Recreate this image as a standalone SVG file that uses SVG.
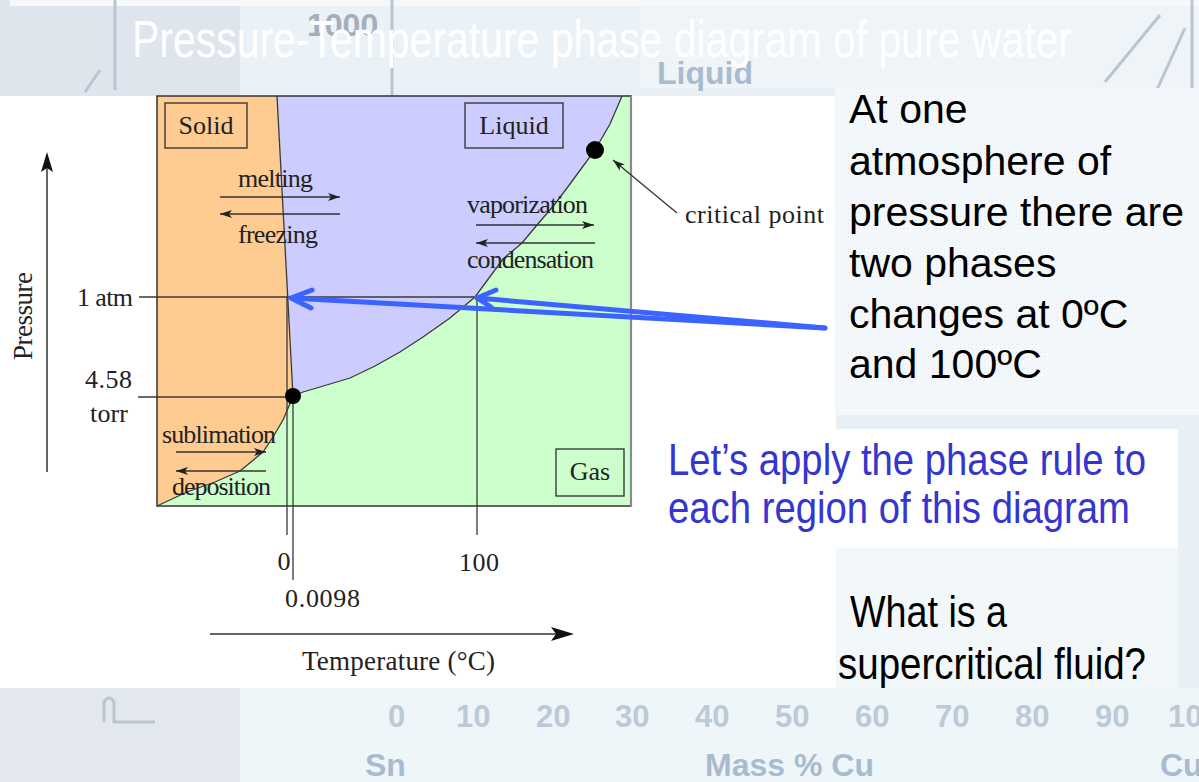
<svg xmlns="http://www.w3.org/2000/svg" width="1199" height="782" viewBox="0 0 1199 782">
<defs>
<style>
.ser{font-family:"Liberation Serif","Times New Roman",serif;fill:#222;font-size:26px}
.ln{stroke:#3a3a3a;stroke-width:1.3;fill:none}
.bx{stroke:#3a3a3a;stroke-width:1.4;fill:none}
.sm{stroke:#333;stroke-width:1.3;fill:none;marker-end:url(#ah)}
.blue{stroke:#3a63ff;stroke-width:5;fill:none;stroke-linecap:round;stroke-linejoin:round}
.wm{font-family:"Liberation Sans",Arial,sans-serif;fill:#bccad8;font-size:31px;font-weight:bold}
.wmb{font-family:"Liberation Sans",Arial,sans-serif;fill:#a9bccf;font-size:32px;font-weight:bold}
.rt{font-family:"Liberation Sans",Arial,sans-serif;fill:#000;font-size:41px}
.nar{font-family:"Liberation Sans",Arial,sans-serif;font-size:44px}
.faint{stroke:#b9c6d2;stroke-width:3;fill:none}
</style>
<marker id="ah" markerWidth="12" markerHeight="8" refX="12" refY="4" orient="auto" markerUnits="userSpaceOnUse"><path d="M0,0 L12,4 L0,8 L3,4 z" fill="#222"/></marker>
<pattern id="dots" width="4" height="4" patternUnits="userSpaceOnUse"><rect width="4" height="4" fill="#f5f8fa"/><rect width="1" height="1" fill="#e3eaf0"/></pattern>
</defs>

<g id="background">
<rect x="0" y="0" width="1199" height="782" fill="#e9f0f5"/>
<rect x="0" y="0" width="240" height="96" fill="#dfe5ec"/>
<rect x="240" y="0" width="400" height="96" fill="#ebf2f7"/>
<rect x="640" y="0" width="559" height="88" fill="#eef4f8"/>
<rect x="10" y="0" width="1189" height="6" fill="#f6f8fa"/>
<rect x="0" y="688" width="240" height="94" fill="#e2e8ee"/>
<rect x="240" y="688" width="959" height="94" fill="#eef6fa"/>
<path class="faint" d="M115,0 L115,90 M100,70 L85,92 M392,0 L392,96"/>
<path class="faint" d="M1105,82 L1160,15 M1150,105 L1185,28 M1192,0 L1192,100"/>
<path class="faint" d="M104,722 L104,702 Q109,694 114,702 L114,722 L155,722"/>
<text class="wmb" x="307" y="36" style="fill:#a3afbb">1000</text>
<text class="wmb" x="657" y="84">Liquid</text>
<g class="wm">
<text x="388" y="727">0</text><text x="456" y="727">10</text><text x="536" y="727">20</text><text x="615" y="727">30</text><text x="695" y="727">40</text><text x="775" y="727">50</text><text x="855" y="727">60</text><text x="935" y="727">70</text><text x="1015" y="727">80</text><text x="1095" y="727">90</text><text x="1168" y="727">100</text>
</g>
<text class="wmb" x="365" y="776">Sn</text>
<text class="wmb" x="705" y="776">Mass % Cu</text>
<text class="wmb" x="1160" y="776">Cu</text>
</g>

<g id="title">
<text x="132" y="57" font-family="Liberation Sans, Arial, sans-serif" font-size="52" fill="#ffffff" textLength="940" lengthAdjust="spacingAndGlyphs">Pressure-Temperature phase diagram of pure water</text>
</g>

<g id="diagram-image">
<rect x="0" y="96" width="836" height="592" fill="#ffffff"/>
</g>

<g id="regions">
<rect id="gas-region" x="157" y="96" width="474" height="410" fill="#ccffcc"/>
<path id="liquid-region" d="M277,96 L622,96 L610,124 L595,150 L570,184 L555,204 L537,225 L522,243 L503,259 L475,297 L450,318 L423,337 L400,352 L375,366 L350,378 L320,387 L303,392 L293,396 Z" fill="#ccccff"/>
<path id="solid-region" d="M157,96 L277,96 L293,396 L289,406 L283,420 L273,437 L263,452 L240,471 L215,482 L187,492 L157,506 Z" fill="#fecb91"/>
</g>

<g id="curves">
<path class="ln" d="M277,96 L293,396"/>
<path class="ln" d="M622,96 L610,124 L595,150 L570,184 L555,204 L537,225 L522,243 L503,259 L475,297 L450,318 L423,337 L400,352 L375,366 L350,378 L320,387 L303,392 L293,396"/>
<path class="ln" d="M293,396 L289,406 L283,420 L273,437 L263,452 L240,471 L215,482 L187,492 L157,506"/>
<rect x="157" y="96" width="474" height="410" fill="none" stroke="#333" stroke-width="1.5"/>
<line x1="631" y1="96" x2="631" y2="507" stroke="#8a8a8a" stroke-width="2.2"/>
</g>

<g id="guides">
<line class="ln" x1="139" y1="297" x2="476" y2="297"/>
<line class="ln" x1="138" y1="397" x2="293" y2="397"/>
<line class="ln" x1="287" y1="297" x2="287" y2="535"/>
<line class="ln" x1="293" y1="397" x2="293" y2="580"/>
<line class="ln" x1="477" y1="297" x2="477" y2="535" stroke="#555"/>
</g>

<g id="triple-point"><circle cx="293" cy="396" r="8" fill="#000"/></g>
<g id="critical-point"><circle cx="595" cy="150" r="9" fill="#000"/></g>

<g id="solid-label"><rect class="bx" x="165" y="103" width="82" height="45"/><text class="ser" x="206" y="134" text-anchor="middle">Solid</text></g>
<g id="liquid-label"><rect class="bx" x="465" y="103" width="98" height="45"/><text class="ser" x="514" y="134" text-anchor="middle">Liquid</text></g>
<g id="gas-label"><rect class="bx" x="556" y="449" width="68" height="47"/><text class="ser" x="590" y="480" text-anchor="middle">Gas</text></g>

<g id="connectors">
<line class="sm" x1="220" y1="197" x2="340" y2="197"/>
<line class="sm" x1="340" y1="214" x2="220" y2="214"/>
<line class="sm" x1="476" y1="225" x2="594" y2="225"/>
<line class="sm" x1="595" y1="243" x2="476" y2="243"/>
<line class="sm" x1="176" y1="452" x2="266" y2="452"/>
<line class="sm" x1="266" y1="471" x2="176" y2="471"/>
<line class="sm" x1="677" y1="213" x2="613" y2="160"/>
<line x1="47" y1="472" x2="47" y2="166" stroke="#333" stroke-width="1.5"/>
<path d="M47,152 L41,172 L47,168 L53,172 Z" fill="#111"/>
<line x1="210" y1="634" x2="556" y2="634" stroke="#333" stroke-width="1.5"/>
<path d="M574,634 L551,627 L556,634 L551,641 Z" fill="#111"/>
<path class="blue" d="M825,328 L291,298 M312,290 L291,298 L311,308"/>
<path class="blue" d="M825,328 L477,298 M496,290 L477,298 L491,307"/>
</g>

<g id="process-labels" class="ser">
<text x="238" y="187" textLength="75">melting</text>
<text x="238" y="243" textLength="80">freezing</text>
<text x="467" y="213" textLength="121">vaporization</text>
<text x="467" y="268" textLength="127">condensation</text>
<text x="162" y="443" textLength="114">sublimation</text>
<text x="172" y="495" textLength="99">deposition</text>
<text x="685" y="223" textLength="139">critical point</text>
</g>

<g id="axis-labels" class="ser">
<text x="77" y="306" textLength="56">1 atm</text>
<text x="85" y="388" textLength="47">4.58</text>
<text x="90" y="422" textLength="38">torr</text>
<text x="284" y="570" text-anchor="middle">0</text>
<text x="285" y="607" textLength="75">0.0098</text>
<text x="459" y="571" textLength="40">100</text>
<text x="302" y="670" font-size="27" textLength="193">Temperature (°C)</text>
<text transform="translate(32,360) rotate(-90)" font-size="27" textLength="88">Pressure</text>
</g>

<g id="note-atm">
<rect x="835" y="88" width="364" height="327" fill="url(#dots)"/>
<g class="rt">
<text x="849" y="123">At one</text>
<text x="849" y="175">atmosphere of</text>
<text x="849" y="226">pressure there are</text>
<text x="849" y="277">two phases</text>
<text x="849" y="328">changes at 0ºC</text>
<text x="849" y="378">and 100ºC</text>
</g>
</g>

<g id="note-phase-rule">
<rect x="640" y="429" width="538" height="119" fill="#ffffff"/>
<text class="nar" x="668" y="475" fill="#3535d0" textLength="478" lengthAdjust="spacingAndGlyphs">Let’s apply the phase rule to</text>
<text class="nar" x="668" y="523" fill="#3535d0" textLength="462" lengthAdjust="spacingAndGlyphs">each region of this diagram</text>
</g>

<g id="note-supercritical">
<rect x="836" y="548" width="342" height="140" fill="#f2f7fa"/>
<text class="nar" x="850" y="627" fill="#000" textLength="157" lengthAdjust="spacingAndGlyphs">What is a</text>
<text class="nar" x="838" y="679" fill="#000" textLength="308" lengthAdjust="spacingAndGlyphs">supercritical fluid?</text>
</g>
</svg>
